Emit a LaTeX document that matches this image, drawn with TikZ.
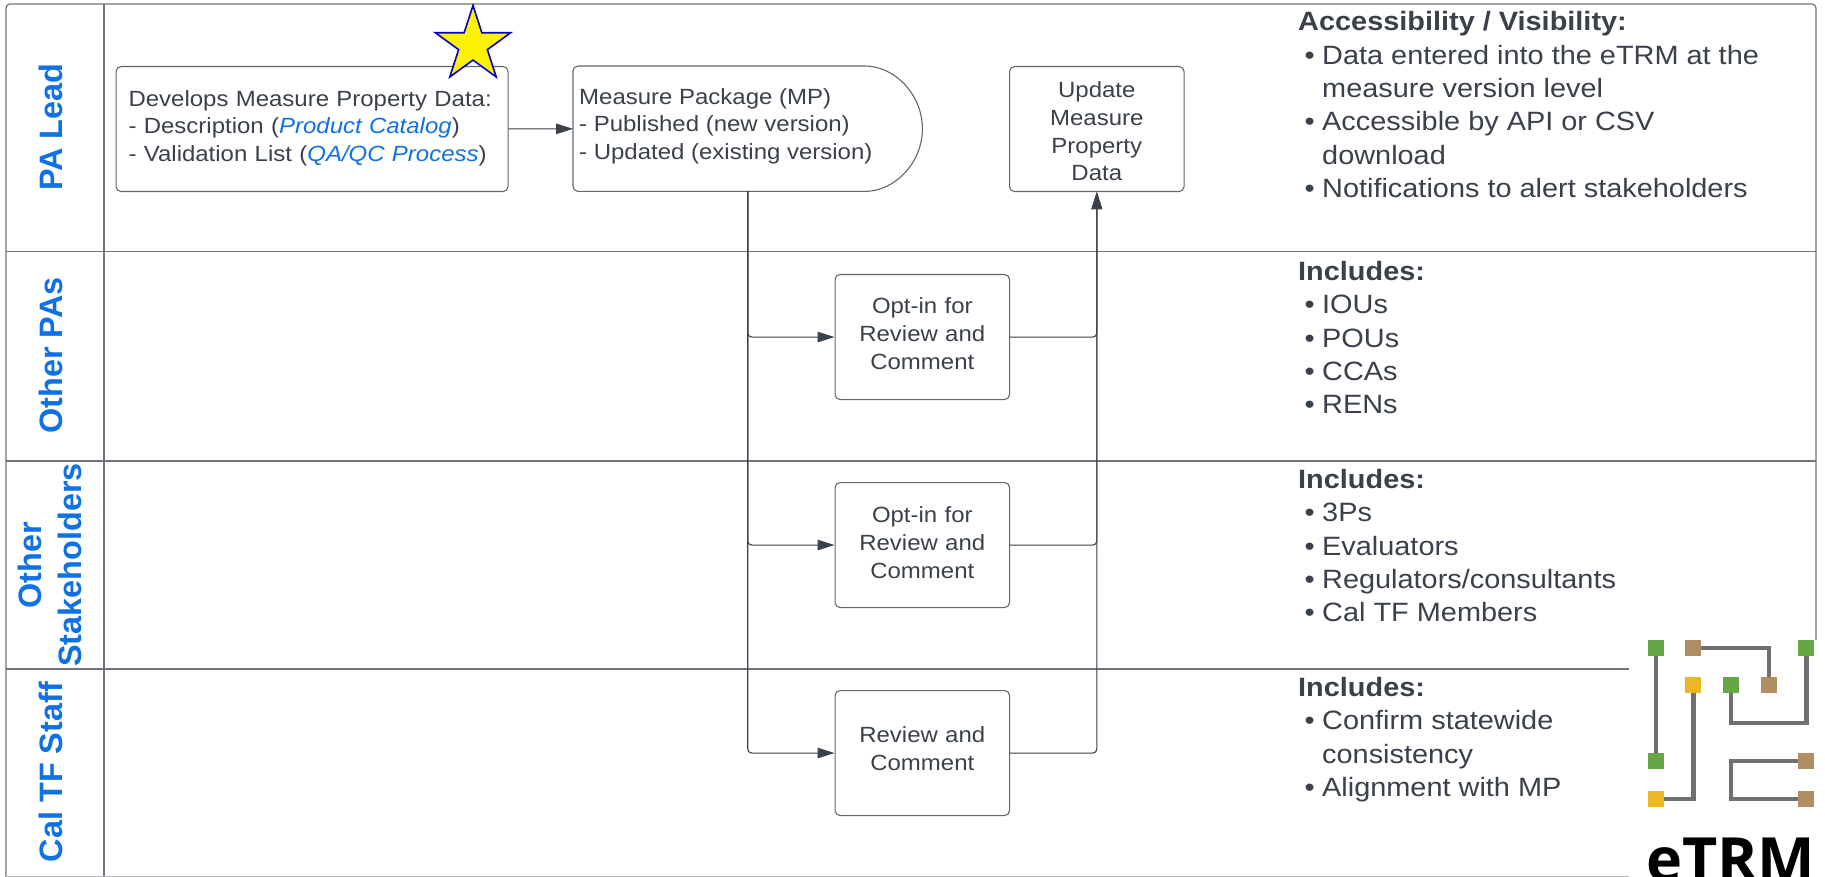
\documentclass[tikz,border=0pt]{standalone}
\usepackage{fontspec}
\setmainfont[FakeStretch=1.09]{Liberation Sans}
\newfontfamily\labelfont{Liberation Sans}
\newfontfamily\logofont{Open Sans}
\usetikzlibrary{arrows.meta,shapes.geometric}
\definecolor{ink}{HTML}{3A414A}
\definecolor{frameline}{HTML}{6F747C}
\definecolor{labelblue}{HTML}{1071E5}
\definecolor{lgreen}{HTML}{66A644}
\definecolor{lbrown}{HTML}{B08E62}
\definecolor{lyellow}{HTML}{E9B824}
\definecolor{lgrey}{HTML}{707070}
\tikzset{
  x=1pt,y=-1pt,
  frame/.style={draw=frameline,line width=1.2pt},
  outline/.style={draw=ink!80,line width=1.1pt,rounded corners=5pt},
  flowbox/.style={outline,fill=white,inner sep=0pt,
     font=\fontsize{22}{27.7}\selectfont,text=ink,align=center},
  processbox/.style={flowbox,minimum width=174.5pt,minimum height=125pt,anchor=north west,text width=160pt},
  conn/.style={draw=ink,line width=1.1pt,rounded corners=4pt},
  tipped/.style={conn,-{Triangle[length=17pt,width=10.5pt]}},
  lanelabel/.style={rotate=90,font=\labelfont\bfseries\fontsize{32.4}{40}\selectfont,text=labelblue,align=center},
  sidetext/.style={anchor=north west,inner sep=0pt,font=\fontsize{26.5}{33.3}\selectfont,text=ink,align=left},
  logosq/.style={minimum size=15.7pt,inner sep=0pt,outer sep=0pt},
  logoline/.style={draw=lgrey,line width=4.4pt},
}
\newcommand{\itm}{\makebox[24pt][r]{\textbullet\hspace{7.5pt}}}
\newcommand{\cnt}{\hspace*{24pt}}
\newcommand{\blu}[1]{\textcolor{labelblue}{\textit{#1}}}
\newcommand{\lift}[1]{\par\nointerlineskip\hbox{\rule{0pt}{#1}}}
\begin{document}
\begin{tikzpicture}
\useasboundingbox (0,0) rectangle (1825,877);
\clip (0,0) rectangle (1825,877);
\fill[white] (0,0) rectangle (1825,877);
% frame
\draw[frame,rounded corners=4pt] (1816,640) -- (1816,4) -- (6,4) -- (6,877);
\draw[frame] (104,4) -- (104,877);
\draw[frame] (6,251.5) -- (1816,251.5);
\draw[frame] (6,461) -- (1816,461);
\draw[frame] (6,669) -- (1629,669);
\draw[frame,draw=frameline!50] (6,876.5) -- (1629,876.5);
% lane labels
\node[lanelabel] (l1) at (50.5,127) {PA Lead};
\node[lanelabel] (l2) at (50.5,355.6) {Other PAs};
\node[lanelabel] (l3) at (50,565) {Other\\Stakeholders};
\node[lanelabel] (l4) at (50.5,772) {Cal TF Staff};
% boxes
\node[flowbox,minimum width=392pt,minimum height=125pt,anchor=north west,align=left,text width=367pt] (dev) at (115.5,66)
  {Develops Measure Property Data:\\- Description (\blu{Product Catalog})\\- Validation List (\blu{QA/QC Process})\lift{2pt}};
\node[inner sep=0pt,minimum width=349pt,minimum height=125pt,anchor=north west] (mp) at (573,66) {};
\coordinate (mpa) at ([xshift=-62.5pt]mp.north east);
\coordinate (mpb) at ([xshift=-62.5pt]mp.south east);
\draw[outline] (mp.east) .. controls +(0,-34.5) and +(34.5,0) .. (mpa) -- (mp.north west) -- (mp.south west) -- (mpb) .. controls +(34.5,0) and +(0,34.5) .. (mp.east);
\node[anchor=north west,inner sep=0pt,font=\fontsize{22}{27.7}\selectfont,text=ink,align=left] (mptext) at (579,88)
  {Measure Package (MP)\\- Published (new version)\\- Updated (existing version)};
\node[processbox] (up) at (1009,66) {\rule{0pt}{20.6pt}Update\\Measure\\Property\\Data};
\node[processbox] (o1) at (834.5,274) {Opt-in for\\Review and\\Comment\lift{7pt}};
\node[processbox] (o2) at (834.5,482) {Opt-in for\\Review and\\Comment\lift{5pt}};
\node[processbox] (o3) at (834.5,690) {Review and\\Comment\lift{9pt}};
\node[star,star points=5,star point ratio=2.618,minimum size=79pt,inner sep=0pt,fill=yellow,draw={rgb,255:red,0;green,0;blue,200},line width=1.6pt] (st) at (473,45) {};
% connectors
\draw[tipped] (dev) -- (mp);
\draw[tipped] (mp.south) |- (o1.west);
\draw[tipped] (mp.south) |- (o2.west);
\draw[tipped] (mp.south) |- (o3.west);
\draw[tipped] (o1.east) -| (up.south);
\draw[tipped] (o2.east) -| (up.south);
\draw[tipped] (o3.east) -| (up.south);
% side texts
\node[sidetext] (s1) at (1298,11.5) {\textbf{Accessibility / Visibility:}\\\itm Data entered into the eTRM at the\\\cnt measure version level\\\itm Accessible by API or CSV\\\cnt download\\\itm Notifications to alert stakeholders};
\node[sidetext] (s2) at (1298,261) {\textbf{Includes:}\\\itm IOUs\\\itm POUs\\\itm CCAs\\\itm RENs};
\node[sidetext] (s3) at (1298,469) {\textbf{Includes:}\\\itm 3Ps\\\itm Evaluators\\\itm Regulators/consultants\\\itm Cal TF Members};
\node[sidetext] (s4) at (1298,677) {\textbf{Includes:}\\\itm Confirm statewide\\\cnt consistency\\\itm Alignment with MP};
% logo
\fill[white] (1629,640) rectangle (1825,877);
\node[logosq,fill=lgreen] (g1) at (1655.7,647.7) {};
\node[logosq,fill=lgreen] (g2) at (1655.7,761) {};
\node[logosq,fill=lbrown] (b1) at (1693.3,647.7) {};
\node[logosq,fill=lbrown] (b2) at (1768.7,685.3) {};
\node[logosq,fill=lgreen] (g3) at (1806.3,647.7) {};
\node[logosq,fill=lyellow] (y1) at (1693.3,685.3) {};
\node[logosq,fill=lyellow] (y2) at (1655.7,798.7) {};
\node[logosq,fill=lgreen] (g4) at (1731,685.3) {};
\node[logosq,fill=lbrown] (b3) at (1806.3,761) {};
\node[logosq,fill=lbrown] (b4) at (1806.3,798.7) {};
\coordinate (k1) at (1731,723);
\coordinate (k2) at (1731,761);
\coordinate (k3) at (1731,798.7);
\draw[logoline] (g1) -- (g2);
\draw[logoline] (b1) -| (b2);
\draw[logoline] (y1) |- (y2);
\draw[logoline] (g4) -- (k1) -| (g3);
\draw[logoline] (b3) -- (k2) -- (k3) -- (b4);
\node[anchor=base west,inner sep=0pt,font=\logofont\bfseries\fontsize{61}{61}\selectfont,text=black] (logo) at (1646,881) {eTRM};
\end{tikzpicture}
\end{document}
